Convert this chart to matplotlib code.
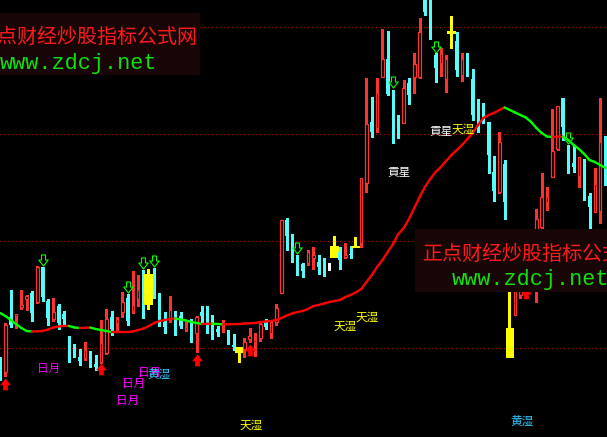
import numpy as np
import matplotlib
matplotlib.use('Agg')
import matplotlib.pyplot as plt
from matplotlib.path import Path
from matplotlib.collections import LineCollection
from matplotlib.patches import Rectangle

# ---------------- data (price units, arbitrary scale) ----------------
opens = [77, 65, 120, 121, 130, 138, 144, 135, 170, 136,
         118, 131, 123, 101, 88, 80, 79, 86, 73, 75,
         84, 120, 114, 125, 139, 126, 138, 155, 132, 168,
         142, 115, 118, 126, 121, 108, 110, 104, 125, 123,
         121, 108, 113, 106, 92, 84, 88, 98, 95, 99,
         115, 104, 115, 144, 217, 197, 182, 173, 174, 179,
         175, 179, 172, 179, 185, 180, 183, 189, 194, 254,
         315, 309, 360, 378, 343, 310, 314, 354, 360, 360,
         439, 433, 382, 374, 358, 403, 396, 362, 371, 358,
         322, 322, 315, 265, 245, 273, 79, 122, 142, 145,
         157, 147, 210, 235, 260, 288, 339, 289, 274, 261,
         278, 241, 225, 226, 301]
highs = [80, 114, 147, 123, 147, 142, 146, 171, 170, 138,
         139, 133, 126, 101, 93, 88, 95, 86, 82, 117,
         128, 126, 120, 145, 143, 166, 162, 167, 168, 169,
         144, 125, 141, 126, 125, 115, 118, 121, 131, 131,
         122, 111, 117, 107, 103, 90, 99, 109, 104, 116,
         118, 115, 133, 217, 219, 203, 182, 174, 187, 190,
         182, 179, 174, 201, 190, 194, 191, 200, 259, 359,
         340, 359, 408, 406, 347, 322, 357, 359, 384, 419,
         447, 442, 384, 389, 382, 421, 405, 384, 384, 368,
         338, 334, 315, 281, 305, 277, 187, 197, 197, 192,
         207, 228, 264, 250, 328, 331, 339, 292, 291, 280,
         278, 244, 269, 339, 301]
lows = [57, 61, 110, 109, 128, 127, 116, 134, 136, 112,
        116, 108, 112, 75, 80, 72, 77, 70, 67, 74,
        83, 102, 107, 120, 112, 124, 131, 119, 127, 139,
        111, 104, 115, 102, 109, 106, 95, 85, 114, 104,
        98, 101, 105, 93, 87, 74, 80, 95, 81, 96,
        108, 99, 112, 144, 187, 175, 162, 160, 172, 168,
        163, 161, 167, 179, 168, 179, 179, 189, 190, 245,
        300, 305, 360, 342, 294, 299, 314, 333, 344, 359,
        422, 398, 355, 361, 345, 388, 361, 356, 361, 317,
        305, 314, 264, 236, 244, 218, 79, 122, 139, 141,
        152, 135, 202, 227, 260, 287, 297, 264, 265, 250,
        237, 209, 225, 214, 252]
closes = [60, 112, 112, 123, 132, 141, 124, 170, 140, 119,
          125, 114, 118, 83, 82, 76, 87, 75, 70, 94,
          118, 108, 118, 135, 116, 132, 147, 126, 163, 149,
          116, 110, 127, 122, 111, 110, 103, 120, 121, 122,
          111, 105, 115, 95, 90, 90, 95, 101, 97, 113,
          110, 115, 129, 217, 201, 183, 171, 166, 185, 182,
          170, 171, 172, 191, 177, 182, 182, 191, 259, 313,
          305, 344, 378, 343, 309, 304, 349, 342, 373, 405,
          425, 398, 369, 383, 378, 406, 367, 378, 363, 322,
          318, 318, 282, 246, 295, 235, 109, 187, 177, 182,
          197, 218, 240, 240, 286, 331, 310, 273, 270, 280,
          249, 230, 253, 295, 257]
ma = [124, 121, 117, 113, 109, 106, 105.5, 105.7, 106, 107.5,
      109.5, 110.5, 111, 111, 109.5, 109, 109.2, 109.4, 108, 107,
      106, 105, 105, 105, 105, 105.5, 107, 108.5, 111, 114,
      116, 117, 118, 118.5, 117.5, 116.5, 115, 114, 113, 113.2,
      113.4, 113, 112.7, 112.8, 112.9, 113, 113.5, 113.7, 114, 115,
      115.5, 116, 117, 119, 121.5, 123.5, 125, 126, 128, 131,
      132, 133.5, 135, 136, 137, 140, 142, 144.5, 148, 155,
      162, 170, 177, 185, 193, 203, 209, 218, 229, 240,
      250, 258, 265, 270, 276, 282, 287, 292, 298, 304,
      312, 319, 322, 324, 327, 329.5, 327, 324.5, 322, 319.5,
      315, 309, 304, 300.5, 300, 300.2, 300.4, 297, 292, 288,
      283, 277, 275, 272, 269]

yellow_idx = [28, 45, 63, 67, 85, 96]
doji_idx = [62]
sell_idx = [8, 24, 27, 29, 56, 74, 82, 107]
sell_val = [177.5, 150.5, 174.5, 176.5, 189.5, 355, 390, 299]
buy_idx = [1, 19, 37, 47, 99]
buy_val = [53.5, 68.5, 77.5, 87.5, 144]
grid_levels = [410, 303, 196, 89]

rising_text = ['日月', '日月', '日月', '日月']
rising_idx = [9.13, 28.15, 25.14, 24.0]
rising_val = [68.5, 64.5, 53.5, 36.5]
huang_text = ['黄湿', '黄湿']
huang_idx = [30.0, 98.2]
huang_val = [62.5, 16]
tian_text = ['天湿', '天湿', '天湿', '天湿']
tian_idx = [47.2, 65.05, 69.2, 87.2]
tian_val = [12, 111, 120, 308]
gong_text = ['貢星', '貢星']
gong_idx = [75.05, 83.05]
gong_val = [264.5, 306]

wm_title = '正点财经炒股指标公式网'
wm_url = 'www.zdcj.net'

# ---------------- style ----------------
W, H = 607, 437
SPACING = 5.31                     # pixels per candle
PX = 1.0 / SPACING                 # one pixel in x data units
RED = '#ff3232'
CYAN = '#54fcfc'
YEL = '#ffff00'
CJK = ['Noto Sans CJK SC', 'DejaVu Sans']
AA = False

fig = plt.figure(figsize=(W / 100, H / 100), dpi=100, facecolor='black')
ax = fig.add_axes([0, 0, 1, 1])
ax.set_facecolor('black')
ax.set_xlim(-0.1 * PX, W * PX - 0.1 * PX)
ax.set_ylim(0, H)
ax.axis('off')

# dotted reference lines
for lv in grid_levels:
    ax.axhline(lv, color='#b00000', lw=0.72, ls=(0, (1, 3)), zorder=1, antialiased=AA)

# candles
for i, (o, h, l, c) in enumerate(zip(opens, highs, lows, closes)):
    if i in yellow_idx:
        ax.add_patch(Rectangle((i - 1.5 * PX, l), 3 * PX, h - l, facecolor=YEL,
                               edgecolor='none', zorder=3, antialiased=AA))
        lo, hi = min(o, c), max(o, c)
        ax.add_patch(Rectangle((i - 4.3 * PX, lo), 8.6 * PX, max(hi - lo, 2.5),
                               facecolor=YEL, edgecolor='none', zorder=3, antialiased=AA))
        continue
    if i in doji_idx:
        ax.vlines(i, l, h, color='white', lw=0.8, zorder=2, antialiased=AA)
        ax.hlines(o, i - 1 * PX, i + 0.3 * PX, color='white', lw=0.8, zorder=2, antialiased=AA)
        continue
    if c >= o:
        ax.vlines(i, l, h, color=RED, lw=0.8, zorder=2, antialiased=AA)
        ax.add_patch(Rectangle((i - 1.3 * PX, o), 2.6 * PX, max(c - o, 1.0),
                               facecolor='black', edgecolor=RED, lw=0.9, zorder=3,
                               antialiased=True))
    else:
        ax.vlines(i, l, h, color=CYAN, lw=0.8, zorder=2, antialiased=AA)
        ax.add_patch(Rectangle((i - 1.5 * PX, c), 3.0 * PX, max(o - c, 1.5),
                               facecolor=CYAN, edgecolor='none', zorder=3, antialiased=AA))

# moving average, red when rising, green when falling
xs = np.arange(len(ma))
segs = [[(xs[k], ma[k]), (xs[k + 1], ma[k + 1])] for k in range(len(ma) - 1)]
cols = ['#ff0000' if ma[k + 1] >= ma[k] else '#00ff00' for k in range(len(ma) - 1)]
ax.add_collection(LineCollection(segs, colors=cols, linewidths=1.7, zorder=4,
                                 capstyle='round'))

# arrow markers
down_verts = [(-2, 5.5), (2, 5.5), (2, 0.5), (4.7, 0.5), (0, -5.5), (-4.7, 0.5),
              (-2, 0.5), (-2, 5.5)]
down_arrow = Path(down_verts, closed=True)
up_arrow = Path([(x, -y) for x, y in down_verts], closed=True)
msize = 11 * 0.72
ax.plot(sell_idx, sell_val, ls='none', marker=down_arrow, markersize=msize,
        markerfacecolor='none', markeredgecolor='#00ff00', markeredgewidth=0.8, zorder=5)
ax.plot(buy_idx, buy_val, ls='none', marker=up_arrow, markersize=msize,
        markerfacecolor='#ff0000', markeredgecolor='#ff0000', markeredgewidth=0.5, zorder=5)

# text signals
fs = 8.4
for t, x, y in zip(rising_text, rising_idx, rising_val):
    ax.text(x, y, t, color='#ff00ff', fontsize=fs, family=CJK, ha='center', va='center', zorder=6)
for t, x, y in zip(huang_text, huang_idx, huang_val):
    ax.text(x, y, t, color='#30c8ff', fontsize=fs, family=CJK, ha='center', va='center', zorder=6)
for t, x, y in zip(tian_text, tian_idx, tian_val):
    ax.text(x, y, t, color=YEL, fontsize=fs, family=CJK, ha='center', va='center', zorder=6)
for t, x, y in zip(gong_text, gong_idx, gong_val):
    ax.text(x, y, t, color='white', fontsize=fs, family=CJK, ha='center', va='center', zorder=6)

# watermark boxes
BOX = '#180606'
def fx(p):
    return p / W
def fy(p):
    return 1 - p / H

ax.add_patch(Rectangle((fx(0), fy(75)), fx(200), (75 - 13) / H, transform=ax.transAxes,
                       facecolor=BOX, edgecolor='none', zorder=8))
ax.add_patch(Rectangle((fx(415), fy(292)), fx(W - 415), (292 - 229) / H, transform=ax.transAxes,
                       facecolor=BOX, edgecolor='none', zorder=8))
tfs = 20 * 0.72
ufs = 21.9 * 0.72
ax.text(fx(-22), fy(37.5), wm_title, transform=ax.transAxes, color='#ff1a1a', fontsize=tfs,
        family=CJK, ha='left', va='center', zorder=9)
ax.text(fx(0), fy(69.5), wm_url, transform=ax.transAxes, color='#10e010', fontsize=ufs,
        family='Liberation Mono', ha='left', va='baseline', zorder=9)
ax.text(fx(423), fy(254.5), wm_title, transform=ax.transAxes, color='#ff1a1a', fontsize=tfs,
        family=CJK, ha='left', va='center', zorder=9)
ax.text(fx(452), fy(285), wm_url, transform=ax.transAxes, color='#10e010', fontsize=ufs,
        family='Liberation Mono', ha='left', va='baseline', zorder=9)

fig.savefig('out.png', dpi=100, facecolor='black')
